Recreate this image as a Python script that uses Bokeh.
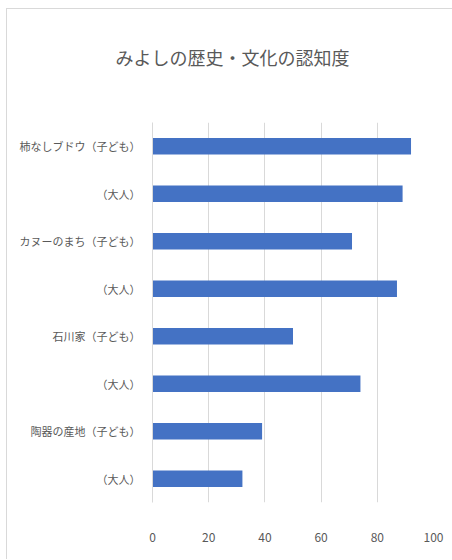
from bokeh.plotting import figure
from bokeh.models import Range1d, FixedTicker, Title
from bokeh.embed import file_html
from bokeh.resources import INLINE

title_text = "みよしの歴史・文化の認知度"
categories = ["柿なしブドウ（子ども）", "（大人）", "カヌーのまち（子ども）", "（大人）",
              "石川家（子ども）", "（大人）", "陶器の産地（子ども）", "（大人）"]
values = [92, 89, 71, 87, 50, 74, 39, 32]
x_ticks = [0, 20, 40, 60, 80, 100]

FONT = "Noto Sans CJK JP"
GRAY = "#595959"

W, H = 446, 551
idx = list(range(len(categories)))

p = figure(width=W, height=H, output_backend="svg", toolbar_location=None,
           x_range=Range1d(0, 100), y_range=Range1d(len(categories) - 0.5, -0.5),
           min_border_left=145, min_border_right=20, min_border_top=113,
           min_border_bottom=58, title=None)
p.styles = {"margin-left": "6px", "margin-top": "8px",
            "border-top": "1px solid #d9d9d9", "border-left": "1px solid #d9d9d9"}

p.hbar(y=idx, right=values, left=0, height=0.35, fill_color="#4472C4", line_color=None)

p.outline_line_color = None
p.background_fill_color = "white"
p.border_fill_color = "white"

# spacer panel between the frame and the title
p.add_layout(Title(text=" ", text_font=FONT, text_font_size="18px", standoff=20), "above")
p.add_layout(Title(text=title_text, text_font=FONT, text_font_size="18px",
                   text_font_style="normal", text_color=GRAY, align="left",
                   offset=-37, standoff=10), "above")

p.xaxis.ticker = FixedTicker(ticks=x_ticks)
p.xaxis.axis_line_color = None
p.xaxis.major_tick_line_color = None
p.xaxis.minor_tick_line_color = None
p.xaxis.major_tick_out = 0
p.xaxis.major_tick_in = 0
p.xaxis.major_label_standoff = 30
p.xaxis.major_label_text_font = FONT
p.xaxis.major_label_text_font_size = "12px"
p.xaxis.major_label_text_color = GRAY

p.yaxis.ticker = FixedTicker(ticks=idx)
p.yaxis.major_label_overrides = {i: c for i, c in zip(idx, categories)}
p.yaxis.axis_line_color = "#d9d9d9"
p.yaxis.major_tick_line_color = None
p.yaxis.minor_tick_line_color = None
p.yaxis.major_tick_out = 0
p.yaxis.major_tick_in = 0
p.yaxis.major_label_standoff = 12
p.yaxis.major_label_text_font = FONT
p.yaxis.major_label_text_font_size = "11px"
p.yaxis.major_label_text_color = GRAY

p.xgrid.grid_line_color = "#d9d9d9"
p.ygrid.grid_line_color = None

open("out.html", "w").write(file_html(p, INLINE))
